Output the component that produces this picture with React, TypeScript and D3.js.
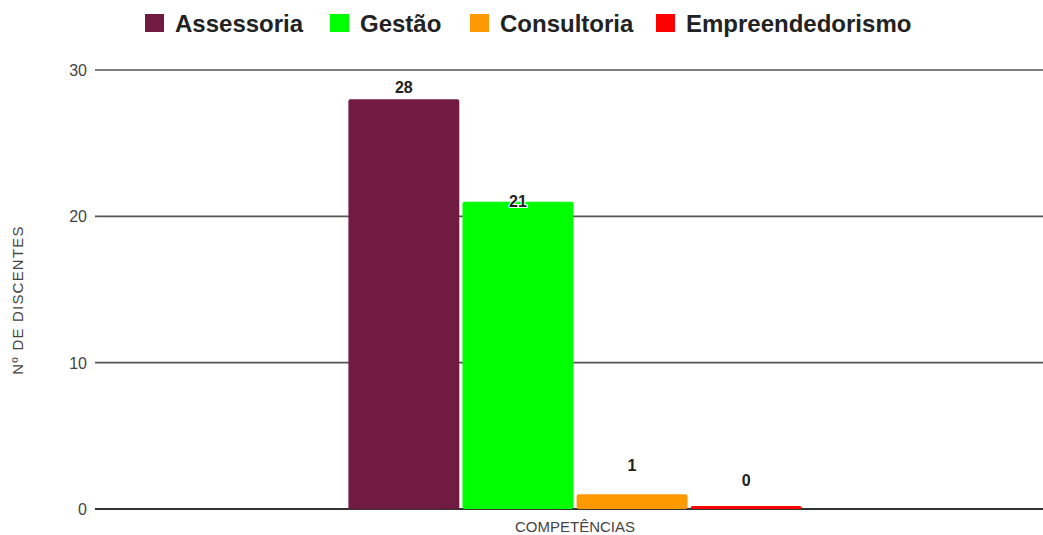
import React from 'react'
import * as d3 from 'd3'

const categories = ['COMPETÊNCIAS']
const series = ['Assessoria', 'Gestão', 'Consultoria', 'Empreendedorismo']
const values = [28, 21, 1, 0]
const colors = ['#721b42', '#00ff00', '#ff9900', '#ff0000']
const yTicks = [0, 10, 20, 30]

const width = 1043
const height = 535
const margin = { top: 70, right: -10, bottom: 26, left: 97 }

const App = () => {
  const x0 = d3
    .scaleBand()
    .domain(categories)
    .range([margin.left, width - margin.right])
    .paddingInner(0)
    .paddingOuter(0.54)
  const x1 = d3.scaleBand().domain(series).range([0, x0.bandwidth()]).padding(0.028)
  const y = d3.scaleLinear().domain([0, 30]).range([height - margin.bottom, margin.top])

  const legendX = [145, 330, 470, 656]
  const font = 'Liberation Sans, Arial, sans-serif'

  // labels of short bars sit higher, the 21 label overlaps its bar (as in the source)
  const labelY = (v: number) => {
    if (v < 3) return y(v) - 23
    if (v < 25) return y(v) + 5
    return y(v) - 6
  }

  return (
    <svg
      width={width}
      height={height}
      style={{ position: 'absolute', left: 0, top: 0, background: '#fff', fontFamily: font }}
    >
      {/* legend */}
      {series.map((s, i) => (
        <g key={s} transform={`translate(${legendX[i]},14)`}>
          <rect width={19} height={18} fill={colors[i]} />
          <text x={30} y={18} fontSize={24} fill="#222" fontWeight="bold">
            {s}
          </text>
        </g>
      ))}

      {/* grid + y ticks */}
      {yTicks.map((t) => (
        <g key={t}>
          <line
            x1={margin.left - 2}
            x2={width}
            y1={y(t)}
            y2={y(t)}
            stroke={t === 0 ? '#333' : '#555'}
            strokeWidth={t === 0 ? 2 : 1.6}
          />
          <text x={87} y={y(t) + 6} textAnchor="end" fontSize={16} fill="#444">
            {t}
          </text>
        </g>
      ))}

      {/* bars */}
      {categories.map((c) => (
        <g key={c} transform={`translate(${x0(c)},0)`}>
          {series.map((s, i) => {
            const v = values[i]
            const top = Math.min(y(v), y(0) - 3)
            return (
              <g key={s}>
                <rect
                  x={x1(s)}
                  y={top}
                  width={x1.bandwidth()}
                  height={y(0) - top}
                  rx={2}
                  fill={colors[i]}
                />
                <text
                  x={(x1(s) ?? 0) + x1.bandwidth() / 2}
                  y={labelY(v)}
                  textAnchor="middle"
                  fontSize={16}
                  fontWeight="bold"
                  fill="#222"
                  stroke="#fff"
                  strokeWidth={v === 21 ? 2 : 0}
                  paintOrder="stroke"
                >
                  {v}
                </text>
              </g>
            )
          })}
          <text
            x={x0.bandwidth() / 2}
            y={height - 3}
            textAnchor="middle"
            fontSize={15}
            fill="#444"
          >
            {c}
          </text>
        </g>
      ))}

      {/* y axis title */}
      <text
        transform={`translate(23,${300}) rotate(-90)`}
        textAnchor="middle"
        fontSize={15}
        letterSpacing={1.2}
        fill="#444"
      >
        Nº DE DISCENTES
      </text>
    </svg>
  )
}

export default App
